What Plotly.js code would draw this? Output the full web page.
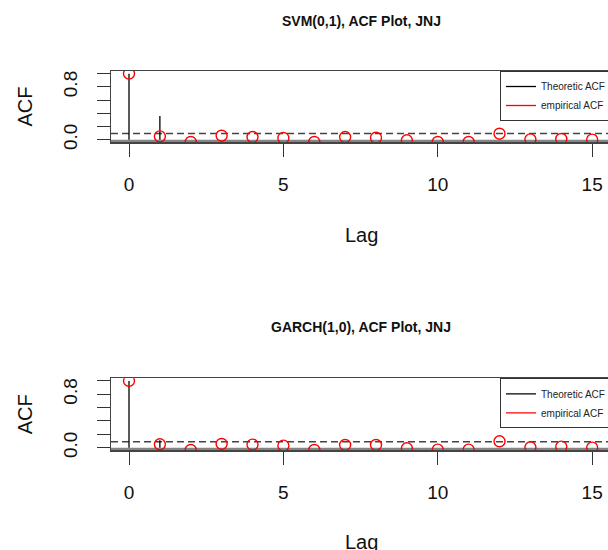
<!DOCTYPE html>
<html><head><meta charset="utf-8">
<script src="https://cdn.plot.ly/plotly-3.0.1.min.js"></script>
<style>html,body{margin:0;padding:0;overflow:hidden;background:#fff}#chart{width:620px;height:550px}</style>
</head><body><div id="chart"></div>
<script>
// ---- data ----
const lags = [0,1,2,3,4,5,6,7,8,9,10,11,12,13,14,15];
const svmTheoretic   = [1, 0.36, 0,0,0,0,0,0,0,0,0,0,0,0,0,0];
const svmEmpirical   = [1.0, 0.05, -0.035, 0.06, 0.04, 0.025, -0.035, 0.04, 0.03, -0.01, -0.035, -0.035, 0.09, 0.005, 0.01, 0.0];
const garchTheoretic = [1, 0.11, 0,0,0,0,0,0,0,0,0,0,0,0,0,0];
const garchEmpirical = [1.0, 0.05, -0.035, 0.055, 0.045, 0.03, -0.035, 0.04, 0.04, -0.01, -0.03, -0.03, 0.095, 0.005, 0.015, 0.0];
const svmBand = 0.093;
const garchBand = 0.088;
const xTickVals = [0,5,10,15];
const xTickText = ['0','5','10','15'];
const yTickVals = [0,0.2,0.4,0.6,0.8,1.0];
const yTickText = ['0.0','','','','0.8',''];
const titles = ['SVM(0,1), ACF Plot, JNJ','GARCH(1,0), ACF Plot, JNJ'];
const seriesNames = ['Theoretic ACF','empirical ACF'];

// ---- build ----
const FONT = 'Liberation Sans, Arial, Helvetica, sans-serif';
function stems(xs, ys){
  const x=[], y=[];
  xs.forEach((l,i)=>{ x.push(l,l,null); y.push(0,ys[i],null); });
  return {x,y};
}
function panel(theo, emp, xa, ya, leg){
  const s = stems(lags, theo);
  return [
    {type:'scatter', mode:'lines', x:s.x, y:s.y, xaxis:xa, yaxis:ya, name:seriesNames[0], legend:leg,
     line:{color:'#000', width:1.3}, hoverinfo:'skip'},
    {type:'scatter', mode:'lines', x:[null], y:[null], xaxis:xa, yaxis:ya, name:seriesNames[1], legend:leg,
     line:{color:'#ff0000', width:1.3}},
    {type:'scatter', mode:'markers', x:lags, y:emp, xaxis:xa, yaxis:ya, showlegend:false,
     marker:{symbol:'circle-open', size:11, color:'#ff0000', line:{width:1.4, color:'#ff0000'}}}
  ];
}
const data = [].concat(panel(svmTheoretic, svmEmpirical, 'x', 'y', 'legend'),
                       panel(garchTheoretic, garchEmpirical, 'x2', 'y2', 'legend2'));

const H = 550;
const topDom = [(H-142.3)/H, (H-71)/H];
const botDom = [(H-450.3)/H, (H-378.3)/H];

function xax(anchor){
  return {domain:[0,1], anchor:anchor, range:[-0.583, 15.61], tickvals:xTickVals, ticktext:xTickText,
    ticks:'outside', ticklen:13, tickwidth:1, tickcolor:'#333', showline:true, linecolor:'#444', linewidth:1.3,
    mirror:true, showgrid:false, zeroline:false, tickfont:{family:FONT, size:19, color:'#111'}, ticklabelstandoff:12};
}
function yax(anchor, dom){
  return {domain:dom, anchor:anchor, range:[-0.04, 1.04], tickvals:yTickVals, ticktext:yTickText, tickangle:-90,
    ticks:'outside', ticklen:13, tickwidth:1, tickcolor:'#333', showline:true, linecolor:'#444', linewidth:1.3,
    mirror:true, showgrid:false, zeroline:false, tickfont:{family:FONT, size:19, color:'#111'}, ticklabelstandoff:12};
}
function bandShapes(xa, ya, band){
  return [
    {type:'rect', xref:xa+' domain', x0:0, x1:1, yref:ya, y0:-0.04, y1:0, fillcolor:'#858585', line:{width:0}, layer:'below'},
    {type:'line', xref:xa+' domain', x0:0, x1:1, yref:ya, y0:band, y1:band, line:{color:'#444', width:1.4, dash:'7px,4px'}, layer:'below'}
  ];
}
function legendCfg(ytop){
  return {x:1, xanchor:'right', xref:'paper', y:ytop, yanchor:'top', yref:'paper', bgcolor:'#fff',
    bordercolor:'#333', borderwidth:1, font:{family:FONT, size:10, color:'#222'}, itemwidth:30};
}
const layout = {
  width:620, height:H, margin:{l:111, r:9, t:0, b:0}, paper_bgcolor:'#fff', plot_bgcolor:'#fff',
  font:{family:FONT},
  xaxis:xax('y'), yaxis:yax('x', topDom), xaxis2:xax('y2'), yaxis2:yax('x2', botDom),
  legend:legendCfg(topDom[1]), legend2:legendCfg(botDom[1]),
  shapes:[].concat(bandShapes('x','y',svmBand), bandShapes('x2','y2',garchBand)),
  annotations:[
    {text:'<b>'+titles[0]+'</b>', xref:'paper', x:0.5, yref:'paper', y:1-21/H, showarrow:false, xanchor:'center', yanchor:'middle', font:{family:FONT, size:14, color:'#111'}},
    {text:'<b>'+titles[1]+'</b>', xref:'paper', x:0.5, yref:'paper', y:1-327/H, showarrow:false, xanchor:'center', yanchor:'middle', font:{family:FONT, size:14, color:'#111'}},
    {text:'Lag', xref:'paper', x:0.5, yref:'paper', y:1-235/H, showarrow:false, xanchor:'center', yanchor:'middle', font:{family:FONT, size:20, color:'#111'}},
    {text:'Lag', xref:'paper', x:0.5, yref:'paper', y:1-542/H, showarrow:false, xanchor:'center', yanchor:'middle', font:{family:FONT, size:20, color:'#111'}},
    {text:'ACF', xref:'paper', x:(25-111)/500, yref:'paper', y:1-106.5/H, textangle:-90, showarrow:false, xanchor:'center', yanchor:'middle', font:{family:FONT, size:20, color:'#111'}},
    {text:'ACF', xref:'paper', x:(25-111)/500, yref:'paper', y:1-414.3/H, textangle:-90, showarrow:false, xanchor:'center', yanchor:'middle', font:{family:FONT, size:20, color:'#111'}}
  ]
};
Plotly.newPlot('chart', data, layout, {displayModeBar:false, staticPlot:true});
</script>
</body></html>
